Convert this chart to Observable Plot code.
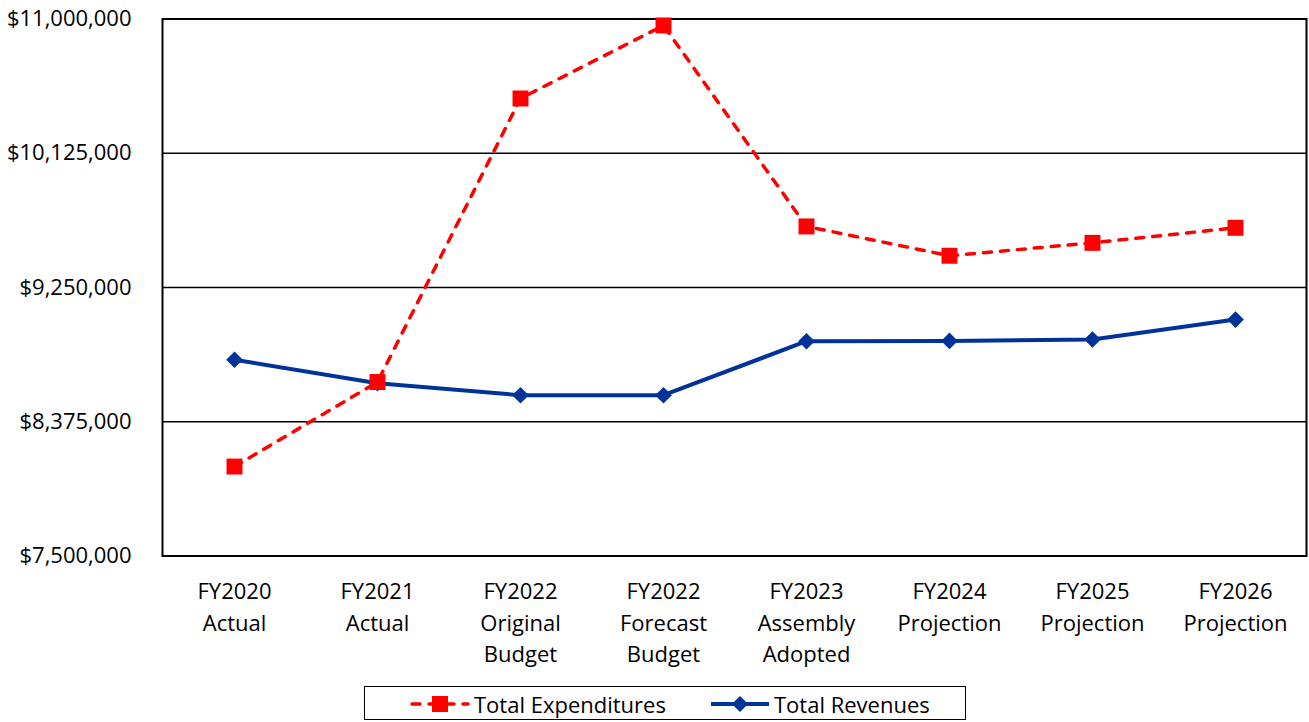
<!DOCTYPE html>
<html>
<head>
<meta charset="utf-8">
<script src="https://cdn.jsdelivr.net/npm/d3@7"></script>
<script src="https://cdn.jsdelivr.net/npm/@observablehq/plot@0.6"></script>
<style>
  body { margin: 0; background: #fff; font-family: "Open Sans", sans-serif; }
  #wrap { position: relative; width: 1309px; height: 722px; }
  #legend { position: absolute; left: 364px; top: 686px; width: 602px; height: 34px; border: 1px solid #000; box-sizing: border-box; font-size: 22px; }
  #legend .item { position: absolute; top: 0; height: 34px; display: flex; align-items: center; white-space: nowrap; }
  #legend svg { display: block; }
</style>
</head>
<body>
<div id="wrap"><div id="chart"></div>
<div id="legend">
  <div class="item" style="left:44px"><svg width="62" height="20"><line x1="3" x2="59" y1="10" y2="10" stroke="#ff0000" stroke-width="3.5" stroke-dasharray="8,9" stroke-linecap="round"/><rect x="23" y="2" width="16" height="16" fill="#ff0000"/></svg><span style="margin-left:3px">Total Expenditures</span></div>
  <div class="item" style="left:344px"><svg width="62" height="20"><line x1="2" x2="60" y1="10" y2="10" stroke="#003399" stroke-width="4"/><path d="M31,2 L39,10 L31,18 L23,10 Z" fill="#003399"/></svg><span style="margin-left:3px">Total Revenues</span></div>
</div>
</div>
<script>
const categories = [
  "FY2020\nActual",
  "FY2021\nActual",
  "FY2022\nOriginal\nBudget",
  "FY2022\nForecast\nBudget",
  "FY2023\nAssembly\nAdopted",
  "FY2024\nProjection",
  "FY2025\nProjection",
  "FY2026\nProjection"
];
const expenditures = [8083000, 8634000, 10482000, 10958000, 9648000, 9457000, 9541000, 9639000];
const revenues = [8779000, 8626000, 8548000, 8548000, 8900000, 8902000, 8911000, 9041000];
const yTicks = [7500000, 8375000, 9250000, 10125000, 11000000];

const expRows = categories.map((c, i) => ({cat: c, value: expenditures[i]}));
const revRows = categories.map((c, i) => ({cat: c, value: revenues[i]}));

const chart = Plot.plot({
  width: 1309,
  height: 680,
  marginLeft: 162,
  marginRight: 3,
  marginTop: 18.5,
  marginBottom: 124.5,
  style: {fontFamily: "'Open Sans', sans-serif", fontSize: "22px", color: "#000", background: "#fff", overflow: "visible"},
  x: {type: "point", domain: categories, padding: 0.5},
  y: {domain: [7500000, 11000000]},
  marks: [
    Plot.gridY(yTicks, {stroke: "#000", strokeOpacity: 1, strokeWidth: 1.5}),
    Plot.frame({stroke: "#000", strokeWidth: 2}),
    Plot.axisY(yTicks, {tickSize: 0, tickPadding: 31, label: null, fontSize: 22, tickFormat: d => "$" + d3.format(",")(d)}),
    Plot.axisX({tickSize: 0, tickPadding: 21, label: null, fontSize: 22, lineHeight: 1.43}),
    Plot.line(revRows, {x: "cat", y: "value", stroke: "#003399", strokeWidth: 4}),
    Plot.dot(revRows, {x: "cat", y: "value", symbol: "diamond2", r: 7.5, fill: "#003399"}),
    Plot.line(expRows, {x: "cat", y: "value", stroke: "#ff0000", strokeWidth: 3.5, strokeDasharray: "8,9", strokeLinecap: "round"}),
    Plot.dot(expRows, {x: "cat", y: "value", symbol: "square", r: 9, fill: "#ff0000"})
  ]
});
document.getElementById("chart").appendChild(chart);
</script>
</body>
</html>
